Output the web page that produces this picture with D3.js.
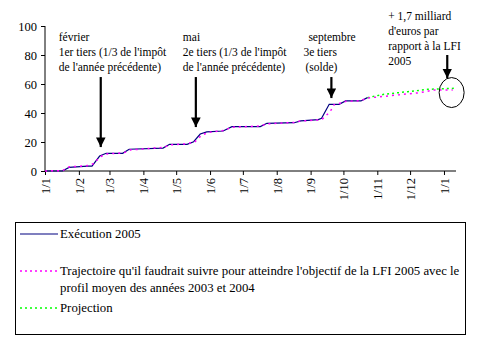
<!DOCTYPE html>
<html>
<head>
<meta charset="utf-8">
<script src="https://cdn.jsdelivr.net/npm/d3@7"></script>
<style>
body { margin:0; background:#fff; }
text { font-family: "Liberation Serif", "Times New Roman", serif; fill:#000; }
</style>
</head>
<body>
<div id="chart"></div>
<script>
// --- data ---
var exeDates  = ["2005-01-01","2005-01-17","2005-01-23","2005-02-09","2005-02-13","2005-02-20","2005-02-26","2005-03-13","2005-03-19","2005-04-19","2005-04-25","2005-05-11","2005-05-17","2005-05-23","2005-05-29","2005-06-13","2005-06-21","2005-07-17","2005-07-23","2005-08-17","2005-08-23","2005-09-08","2005-09-11","2005-09-18","2005-09-27","2005-10-03","2005-10-17","2005-10-23"]
var exeValues = [0,0,2.5,3.4,3.4,10.3,12.2,12.2,15,15.8,18.4,18.4,20.2,25.5,27,27.6,30.6,30.6,32.9,33.3,34.6,35.4,36.3,46,46,48.3,48.3,50.6]

var trajDates  = ["2005-01-01","2005-01-17","2005-01-23","2005-02-10","2005-02-14","2005-02-21","2005-02-27","2005-03-14","2005-03-20","2005-04-19","2005-04-26","2005-05-11","2005-05-18","2005-05-24","2005-05-30","2005-06-14","2005-06-21","2005-07-17","2005-07-23","2005-08-17","2005-08-23","2005-09-08","2005-09-12","2005-09-19","2005-09-22","2005-09-27","2005-10-03","2005-10-17","2005-10-23","2005-11-20","2005-12-10","2005-12-22","2006-01-09"]
var trajValues = [0,0.3,2.8,3.8,5,10,11.8,12.5,14.5,16.3,18,18.8,20,24.5,26.5,28,30.2,31,32.5,33.5,34.5,35.2,36,41,45.5,46.5,48,48.5,50.3,52.5,54,55.8,55.9]

var projDates  = ["2005-10-23","2005-11-07","2005-11-29","2005-12-17","2006-01-10"]
var projValues = [50.6,52.9,54.7,56.3,57]

var tickDates = ["2005-01-01","2005-02-01","2005-03-01","2005-04-01","2005-05-01","2005-06-01","2005-07-01","2005-08-01","2005-09-01","2005-10-01","2005-11-01","2005-12-01","2006-01-01"]
var yTicks = [0,20,40,60,80,100]

var legendLabels = ["Exécution 2005",
  ["Trajectoire qu'il faudrait suivre pour atteindre l'objectif de la LFI 2005 avec le", "profil moyen des années 2003 et 2004"],
  "Projection"]

// annotation arrows: date, value at tail, value at tip
var arrowDates = ["2005-02-21","2005-05-19","2005-09-20","2006-01-04"]
var arrowFrom  = [64.8,64.8,64.8,80]
var arrowTo    = [16.5,30.3,50.3,64]

var notes = [
  {lines:["février","1er tiers (1/3 de l'impôt","de l'année précédente)"], dx:[-42,-42,-42], y0:41},
  {lines:["mai","2e tiers (1/3 de l'impôt","de l'année précédente)"], dx:[-13,-13,-13], y0:41},
  {lines:["septembre","3e tiers","(solde)"], dx:[-23,-28,-26], y0:41},
  {lines:["+ 1,7 milliard","d'euros par","rapport à la LFI","2005"], dx:[-59,-59,-59,-59], y0:20}
]

var parse = d3.timeParse("%Y-%m-%d")

var svg = d3.select("#chart").append("svg")
    .attr("width", 483).attr("height", 344)
    .attr("font-family", "Liberation Serif")

var x = d3.scaleTime()
    .domain([parse("2005-01-01"), parse("2006-01-12")])
    .range([45, 456])
var y = d3.scaleLinear().domain([0, 100]).range([171, 26])

// axes
var yAxis = svg.append("g").attr("transform", "translate(45,0)")
    .call(d3.axisLeft(y).tickValues(yTicks).tickSize(4).tickPadding(4))
yAxis.attr("font-family", "Liberation Serif")
yAxis.selectAll("text").style("font-size", "12.5px")
yAxis.select(".domain").attr("d", "M0," + y(100) + "V" + y(0))

var xAxis = svg.append("g").attr("transform", "translate(0,171)")
    .call(d3.axisBottom(x).tickValues(tickDates.map(parse)).tickSize(4)
      .tickFormat(d3.timeFormat("1/%-m")))
xAxis.attr("font-family", "Liberation Serif")
xAxis.select(".domain").attr("d", "M45,0H456")
xAxis.selectAll("text")
    .style("font-size", "12.5px")
    .attr("transform", "rotate(-90)")
    .attr("text-anchor", "end")
    .attr("x", -7).attr("y", 0).attr("dy", "0.35em")

function series(dates, values){
  return dates.map(function(d, i){ return {date: parse(d), value: values[i]} })
}
var line = d3.line().x(d => x(d.date)).y(d => y(d.value))

svg.append("path").datum(series(projDates, projValues))
    .attr("d", line).attr("fill", "none")
    .attr("stroke", "#00ff00").attr("stroke-width", 1.5).attr("stroke-dasharray", "2,3")

svg.append("path").datum(series(exeDates, exeValues))
    .attr("d", line).attr("fill", "none")
    .attr("stroke", "#000080").attr("stroke-width", 1.2)

svg.append("path").datum(series(trajDates, trajValues))
    .attr("d", line).attr("fill", "none")
    .attr("stroke", "#ff00ff").attr("stroke-width", 1.5).attr("stroke-dasharray", "2,4")

// arrows
svg.append("defs").append("marker")
    .attr("id", "head").attr("viewBox", "0 0 10 10")
    .attr("refX", 10).attr("refY", 5)
    .attr("markerWidth", 4.4).attr("markerHeight", 4.4)
    .attr("markerUnits", "strokeWidth").attr("orient", "auto")
  .append("path").attr("d", "M0,0L10,5L0,10Z").attr("fill", "#000")

arrowDates.forEach(function(d, i){
  var ax = x(parse(d))
  svg.append("line")
    .attr("x1", ax).attr("x2", ax)
    .attr("y1", y(arrowFrom[i])).attr("y2", y(arrowTo[i]))
    .attr("stroke", "#000").attr("stroke-width", 2.2)
    .attr("marker-end", "url(#head)")

  var n = notes[i]
  n.lines.forEach(function(t, j){
    svg.append("text")
      .attr("x", ax + n.dx[j]).attr("y", n.y0 + j * 15)
      .style("font-size", "11.5px").text(t)
  })
})

// circle round the gap at year end
svg.append("ellipse")
    .attr("cx", x(parse("2006-01-08"))).attr("cy", y(54.1))
    .attr("rx", 12.5).attr("ry", 15)
    .attr("fill", "none").attr("stroke", "#000").attr("stroke-width", 1)

// legend
var lg = svg.append("g")
lg.append("rect").attr("x", 15.5).attr("y", 222.5).attr("width", 450).attr("height", 112)
    .attr("fill", "none").attr("stroke", "#000")

var legendStyle = [
  {stroke:"#000080", dash:null, y:234},
  {stroke:"#ff00ff", dash:"2,3", y:271},
  {stroke:"#00ff00", dash:"2,3", y:308}
]
legendStyle.forEach(function(s, i){
  lg.append("line").attr("x1", 20).attr("x2", 58).attr("y1", s.y).attr("y2", s.y)
    .attr("stroke", s.stroke).attr("stroke-width", s.dash ? 1.5 : 1.2)
    .attr("stroke-dasharray", s.dash)
  var lab = [].concat(legendLabels[i])
  lab.forEach(function(t, j){
    lg.append("text").attr("x", 60).attr("y", s.y + 4 + j * 17)
      .style("font-size", "12.8px").text(t)
  })
})
</script>
</body>
</html>
